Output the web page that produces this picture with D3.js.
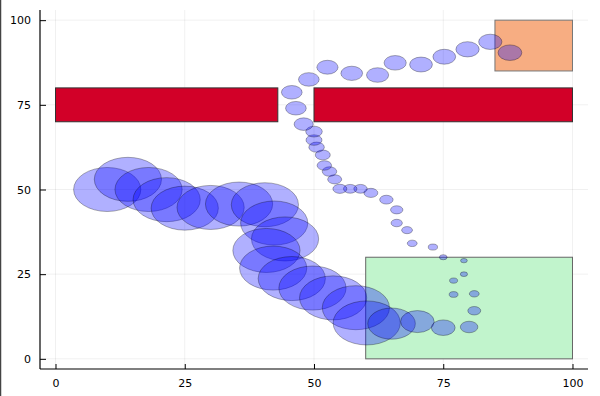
<!DOCTYPE html>
<html>
<head>
<meta charset="utf-8">
<script src="https://cdn.jsdelivr.net/npm/d3@7"></script>
<style>
  body { margin: 0; background: #fff; }
  svg { display: block; font-family: "DejaVu Sans", sans-serif; }
</style>
</head>
<body>
<svg id="chart" width="600" height="396"></svg>
<script>
// ticks
const xTicks = [0, 25, 50, 75, 100];
const yTicks = [0, 25, 50, 75, 100];

// rectangles (data units)
const rectX0 = [0, 50, 85, 60];
const rectX1 = [43, 100, 100, 100];
const rectY0 = [70, 70, 85, 0];
const rectY1 = [80, 80, 100, 30];
const rectFill = ["#d20028", "#d20028", "#f7ad82", "#c1f4cc"];
const rectStroke = ["#333", "#333", "#777", "#666"];

// circles along the path: center x, center y, diameter
const pathX = [10, 14, 18, 21.5, 25, 30, 35.5, 40.5, 42.3, 44.4, 40.8, 42.1, 45.7, 49.7, 53.7, 58.1, 60.2,
  65, 70, 75, 80, 81, 81, 77, 77, 79, 79, 75,
  73, 69, 68, 66, 66, 64, 61, 59, 57, 55, 54, 53, 52, 51.7, 50.5, 50, 50, 48, 46.5, 45.7,
  49, 52.6, 57.3, 62.3, 65.7, 70.7, 75.2, 79.7, 84.1, 87.9];
const pathY = [50, 53, 50, 47, 44.5, 44.7, 45.7, 45.5, 40.1, 35.4, 32, 26.8, 23.7, 20.9, 18, 15.1, 10.6,
  10.4, 11, 9.2, 9.4, 14.2, 19.2, 19, 23.1, 25, 29, 30,
  33, 34.1, 38, 40.1, 44, 47, 49, 50.2, 50.2, 50.2, 53, 55.3, 57.1, 60.2, 62.5, 64.6, 67.1, 69.3, 74, 78.7,
  82.5, 86.1, 84.3, 83.8, 87.4, 86.9, 89.2, 91.4, 93.6, 90.4];
const pathD = [13, 13, 13, 13, 13, 13, 13, 13, 13, 13, 13, 13, 13, 13, 13, 13, 13,
  9.2, 6.5, 4.6, 3.4, 2.5, 1.9, 1.7, 1.55, 1.4, 1.3, 1.5,
  1.8, 1.9, 2.1, 2.2, 2.4, 2.6, 2.7, 2.6, 2.6, 2.7, 2.7, 2.8, 2.8, 2.9, 3.0, 3.1, 3.2, 3.7, 4.0, 4.0,
  4.0, 4.1, 4.2, 4.3, 4.3, 4.4, 4.4, 4.5, 4.5, 4.6];

const svg = d3.select("#chart");
const pLeft = 40, pRight = 588, pTop = 10, pBottom = 369;

const x = d3.scaleLinear().domain([-3, 103]).range([pLeft, pRight]);
const y = d3.scaleLinear().domain([-3, 103]).range([pBottom, pTop]);

// left border line of the picture
svg.append("line").attr("x1", 0.5).attr("x2", 0.5).attr("y1", 0).attr("y2", 396)
  .attr("stroke", "#444").attr("stroke-width", 1.5);

// grid
svg.append("g").selectAll("line").data(xTicks).join("line")
  .attr("x1", d => x(d)).attr("x2", d => x(d)).attr("y1", pTop).attr("y2", pBottom)
  .attr("stroke", "#000").attr("stroke-opacity", 0.08).attr("stroke-width", 0.8);
svg.append("g").selectAll("line").data(yTicks).join("line")
  .attr("x1", pLeft).attr("x2", pRight).attr("y1", d => y(d)).attr("y2", d => y(d))
  .attr("stroke", "#000").attr("stroke-opacity", 0.08).attr("stroke-width", 0.8);

// rectangles
svg.append("g").selectAll("rect").data(rectX0).join("rect")
  .attr("x", (d, i) => x(rectX0[i]))
  .attr("y", (d, i) => y(rectY1[i]))
  .attr("width", (d, i) => x(rectX1[i]) - x(rectX0[i]))
  .attr("height", (d, i) => y(rectY0[i]) - y(rectY1[i]))
  .attr("fill", (d, i) => rectFill[i])
  .attr("stroke", (d, i) => rectStroke[i])
  .attr("stroke-width", 1);

// ellipses (circles in data space)
svg.append("g").selectAll("ellipse").data(pathX).join("ellipse")
  .attr("cx", (d, i) => x(pathX[i]))
  .attr("cy", (d, i) => y(pathY[i]))
  .attr("rx", (d, i) => x(pathD[i] / 2) - x(0))
  .attr("ry", (d, i) => y(0) - y(pathD[i] / 2))
  .attr("fill", "blue").attr("fill-opacity", 0.31)
  .attr("stroke", "#000").attr("stroke-opacity", 0.3).attr("stroke-width", 1);

// axes
const xAxis = d3.axisBottom(x).tickValues(xTicks).tickSizeInner(-5).tickSizeOuter(0).tickPadding(10);
const yAxis = d3.axisLeft(y).tickValues(yTicks).tickSizeInner(-6).tickSizeOuter(0).tickPadding(9);

const gx = svg.append("g").attr("transform", `translate(0,${pBottom})`).call(xAxis);
const gy = svg.append("g").attr("transform", `translate(${pLeft},0)`).call(yAxis);
[gx, gy].forEach(g => {
  g.select(".domain").attr("stroke", "#000").attr("stroke-width", 1.2);
  g.selectAll(".tick line").attr("stroke", "#000");
  g.selectAll(".tick text").attr("font-size", 11).attr("fill", "#000")
    .attr("font-family", "DejaVu Sans, sans-serif");
});
gx.select(".domain").attr("d", `M${pLeft},0H${pRight}`);
gy.select(".domain").attr("d", `M0,${pTop}V${pBottom}`);
</script>
</body>
</html>
